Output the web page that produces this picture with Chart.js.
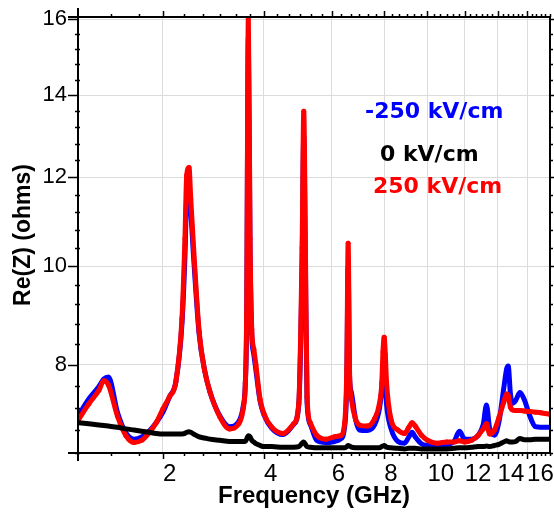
<!DOCTYPE html>
<html>
<head>
<meta charset="utf-8">
<script src="https://cdn.jsdelivr.net/npm/chart.js@4.4.1/dist/chart.umd.min.js"></script>
<style>
  body { margin: 0; background: #fff; }
  #wrap { width: 554px; height: 519px; position: relative; }
</style>
</head>
<body>
<div id="wrap"><canvas id="myChart"></canvas></div>
<script>
// frequency in GHz
var freq = [1.0,1.1,1.2,1.25,1.3,1.4,1.5,1.6,1.7,1.8,
  1.9,2.0,2.1,2.2,2.3,2.35,2.38,2.42,2.45,2.5,
  2.6,2.7,2.8,3.0,3.2,3.4,3.5,3.55,3.58,3.62,
  3.66,3.7,3.75,3.8,3.9,4.0,4.2,4.5,4.8,4.95,
  5.05,5.1,5.15,5.2,5.3,5.5,5.8,6.1,6.3,6.45,
  6.53,6.58,6.63,6.7,6.85,7.0,7.3,7.6,7.8,7.9,
  7.95,8.0,8.05,8.1,8.3,8.6,8.9,9.1,9.25,9.4,
  9.7,10,10.5,11,11.4,11.7,12.0,12.4,12.8,13.1,
  13.3,13.5,13.8,14.1,14.4,14.6,14.7,14.85,15.0,15.2,
  15.5,15.8,16.2,16.6,17.0,17.7];

// Re(Z) in ohms, -250 kV/cm
var reMinus = [7.05,7.36,7.59,7.73,7.77,7.12,6.75,6.64,6.68,6.78,
  6.93,7.12,7.40,7.68,8.8,10.2,11.5,11.55,11.2,10.2,
  8.6,7.90,7.50,7.05,6.86,6.95,7.22,7.65,8.8,15.5,
  10.3,8.6,8.2,7.9,7.33,7.07,6.83,6.72,6.90,7.25,
  10.0,13.0,10.0,7.3,6.9,6.62,6.58,6.60,6.64,6.85,
  7.70,10.0,7.8,7.48,7.0,6.80,6.79,6.89,7.18,7.55,
  7.87,7.93,7.65,7.27,6.82,6.60,6.57,6.68,6.76,6.68,
  6.56,6.53,6.52,6.54,6.60,6.78,6.64,6.64,6.71,6.90,
  7.25,6.82,6.71,6.96,7.55,7.93,7.98,7.45,7.28,7.33,
  7.48,7.35,7.05,6.86,6.85,6.85];

// 0 kV/cm
var reZero = [6.93,6.91,6.89,6.88,6.87,6.85,6.82,6.80,6.78,6.76,
  6.74,6.73,6.73,6.73,6.73,6.74,6.76,6.77,6.76,6.73,
  6.68,6.66,6.64,6.62,6.60,6.60,6.60,6.60,6.64,6.70,
  6.68,6.62,6.59,6.56,6.53,6.51,6.51,6.50,6.50,6.51,
  6.57,6.59,6.55,6.51,6.50,6.49,6.49,6.49,6.49,6.49,
  6.51,6.53,6.52,6.50,6.49,6.49,6.49,6.49,6.49,6.51,
  6.52,6.53,6.52,6.50,6.49,6.48,6.47,6.48,6.48,6.48,
  6.47,6.47,6.47,6.47,6.48,6.49,6.49,6.50,6.51,6.51,
  6.52,6.51,6.53,6.55,6.59,6.61,6.60,6.59,6.59,6.60,
  6.65,6.63,6.63,6.64,6.64,6.64];

// 250 kV/cm
var rePlus = [6.97,7.27,7.52,7.70,7.62,7.05,6.70,6.58,6.62,6.75,
  6.93,7.18,7.40,7.68,8.91,10.6,12.05,12.23,11.5,10.4,
  8.65,7.90,7.50,7.03,6.82,6.91,7.18,7.65,9.0,16.05,
  10.6,8.7,8.3,8.0,7.36,7.09,6.85,6.74,6.91,7.27,
  10.4,13.6,10.4,7.4,6.93,6.71,6.64,6.68,6.70,6.91,
  7.93,10.5,7.9,7.36,7.0,6.89,6.87,7.0,7.27,7.65,
  8.25,8.54,8.2,7.68,6.98,6.80,6.74,6.85,6.93,6.87,
  6.71,6.62,6.57,6.59,6.59,6.61,6.59,6.62,6.71,6.82,
  6.91,6.73,6.80,7.03,7.30,7.45,7.42,7.21,7.16,7.15,
  7.15,7.14,7.13,7.12,7.11,7.08];

var xMajor = [2, 4, 6, 8, 10, 12, 14, 16];
var yMajor = [8, 10, 12, 14, 16];

// axis spacing of the original plot: x ~ f^0.25, y ~ sqrt(R)
class PowerScale extends Chart.LinearScale {
  configure() {
    super.configure();
    var p = this.options.exponent;
    if (!p) p = this.axis === 'x' ? 0.25 : 0.5;
    this._p = p;
    this._ps = Math.pow(this.min, p);
    this._pe = Math.pow(this.max, p);
  }
  getPixelForValue(v) {
    if (v === null || v === undefined || isNaN(v)) return NaN;
    return this.getPixelForDecimal((Math.pow(v, this._p) - this._ps) / (this._pe - this._ps));
  }
  getValueForPixel(px) {
    var d = this.getDecimalForPixel(px);
    return Math.pow(this._ps + d * (this._pe - this._ps), 1 / this._p);
  }
}
PowerScale.id = 'power';
PowerScale.defaults = {};
Chart.register(PowerScale);

function pts(ys) {
  return freq.map(function(f, i) { return {x: f, y: ys[i]}; });
}

// minor ticks: x every 1/3 GHz, y every 0.4 ohm
var xMinor = [];
for (var k = 4; k <= 53; k++) { if (k % 6 != 0) xMinor.push(k / 3); }
var yMinor = [];
for (var k = 16; k <= 40; k++) { if (k % 5 != 0) yMinor.push(k * 0.4); }

var frameTicks = {
  id: 'frameTicks',
  afterDraw: function(chart) {
    var c = chart.ctx, a = chart.chartArea, sx = chart.scales.x, sy = chart.scales.y;
    c.save();
    c.strokeStyle = '#000';
    c.lineWidth = 2;
    c.beginPath();
    c.moveTo(a.left - 10, a.top); c.lineTo(a.right, a.top);
    c.moveTo(a.right, a.top); c.lineTo(a.right, a.bottom);
    c.moveTo(a.left - 10, a.bottom); c.lineTo(a.left, a.bottom);
    c.moveTo(a.left, a.top - 9); c.lineTo(a.left, a.bottom + 8);
    c.stroke();
    c.lineWidth = 1.5;
    c.beginPath();
    xMajor.forEach(function(v) {
      var px = Math.round(sx.getPixelForValue(v)) + 0.5;
      c.moveTo(px, a.bottom); c.lineTo(px, a.bottom + 6);
      c.moveTo(px, a.top); c.lineTo(px, a.top - 6);
    });
    xMinor.forEach(function(v) {
      var px = Math.round(sx.getPixelForValue(v)) + 0.5;
      c.moveTo(px, a.bottom); c.lineTo(px, a.bottom + 3);
      c.moveTo(px, a.top); c.lineTo(px, a.top - 3);
    });
    yMajor.forEach(function(v) {
      var py = Math.round(sy.getPixelForValue(v)) + 0.5;
      c.moveTo(a.left - 10, py); c.lineTo(a.left, py);
      c.moveTo(a.right, py); c.lineTo(a.right + 4, py);
    });
    yMinor.forEach(function(v) {
      var py = Math.round(sy.getPixelForValue(v)) + 0.5;
      c.moveTo(a.left - 3, py); c.lineTo(a.left + 2, py);
      c.moveTo(a.right, py); c.lineTo(a.right + 3, py);
    });
    c.stroke();
    c.restore();
  }
};

var seriesText = {
  id: 'seriesText',
  afterDraw: function(chart) {
    var c = chart.ctx;
    c.save();
    c.font = 'bold 22px "DejaVu Sans"';
    c.textAlign = 'left';
    c.textBaseline = 'middle';
    c.fillStyle = '#0000ff'; c.fillText('-250 kV/cm', 365, 112);
    c.fillStyle = '#000000'; c.fillText('0 kV/cm', 380, 155);
    c.fillStyle = '#ff0000'; c.fillText('250 kV/cm', 373, 187);
    c.restore();
  }
};

var ctx = document.getElementById('myChart').getContext('2d');
var chart = new Chart(ctx, {
  type: 'line',
  data: {
    datasets: [{
      label: '0 kV/cm',
      data: pts(reZero),
      borderColor: '#000000',
      backgroundColor: '#000000',
      borderWidth: 5,
      pointRadius: 0
    }, {
      label: '250 kV/cm',
      data: pts(rePlus),
      borderColor: '#ff0000',
      backgroundColor: '#ff0000',
      borderWidth: 5,
      pointRadius: 2.5,
      pointBorderWidth: 0
    }, {
      label: '-250 kV/cm',
      data: pts(reMinus),
      borderColor: '#0000ff',
      backgroundColor: '#0000ff',
      borderWidth: 5,
      pointRadius: 2,
      pointBorderWidth: 0
    }]
  },
  options: {
    responsive: true,
    maintainAspectRatio: false,
    animation: false,
    layout: { padding: { top: 17, right: 4, left: 0, bottom: 0 } },
    plugins: { legend: { display: false }, tooltip: { enabled: false } },
    elements: { line: { cubicInterpolationMode: 'monotone' } },
    scales: {
      x: {
        type: 'power',
        exponent: 0.25,
        min: 1,
        max: 17.7,
        bounds: 'data',
        position: 'bottom',
        afterBuildTicks: function(s) { s.ticks = xMajor.map(function(v) { return {value: v}; }); },
        afterFit: function(s) { s.height = 66; s.paddingLeft = 0; s.paddingRight = 0; },
        grid: { color: '#dcdcdc', lineWidth: 1, drawTicks: false },
        border: { display: true, color: '#000', width: 2 },
        ticks: {
          align: 'start', padding: 7, color: '#000', autoSkip: false, maxRotation: 0,
          font: { family: 'Liberation Sans', size: 24 },
          callback: function(v) { return String(v); }
        },
        title: {
          display: true, text: 'Frequency (GHz)', color: '#000',
          font: { family: 'Liberation Sans', size: 24, weight: 'bold' },
          padding: { top: 0, bottom: 8 }
        }
      },
      y: {
        type: 'power',
        exponent: 0.5,
        min: 6.4,
        max: 16.06,
        bounds: 'data',
        afterBuildTicks: function(s) { s.ticks = yMajor.map(function(v) { return {value: v}; }); },
        afterFit: function(s) { s.width = 78; s.paddingTop = 0; s.paddingBottom = 0; },
        grid: { color: '#dcdcdc', lineWidth: 1, drawTicks: false },
        border: { display: true, color: '#000', width: 2 },
        ticks: {
          padding: 11, color: '#000', autoSkip: false,
          font: { family: 'Liberation Sans', size: 22 },
          callback: function(v) { return String(v); }
        },
        title: {
          display: true, text: 'Re(Z) (ohms)', color: '#000',
          font: { family: 'Liberation Sans', size: 23, weight: 'bold' },
          padding: { top: 10, bottom: 0 }
        }
      }
    }
  },
  plugins: [frameTicks, seriesText]
});
</script>
</body>
</html>
